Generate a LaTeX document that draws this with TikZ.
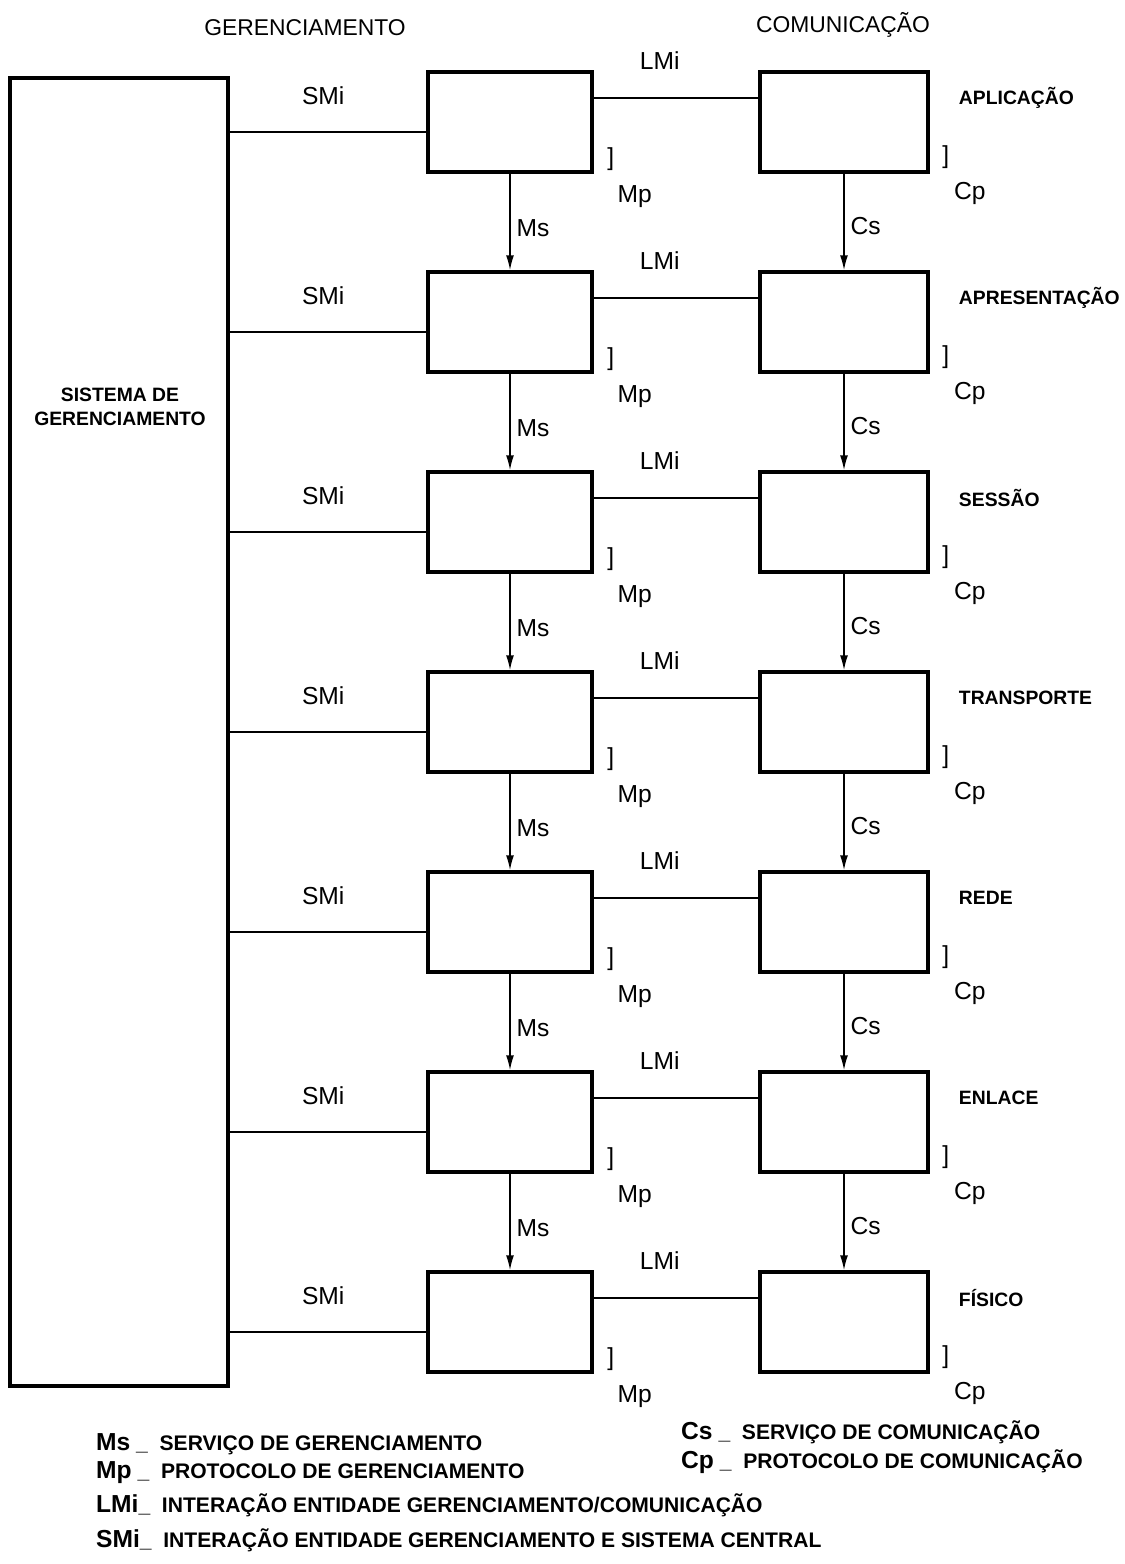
\documentclass[tikz,border=0pt]{standalone}
\usepackage{fontspec}
\setmainfont{Liberation Sans}
\usetikzlibrary{arrows.meta}
\newcommand{\keyfont}{\fontsize{14}{16}\selectfont}
\begin{document}
\begin{tikzpicture}[
    entity/.style={draw, line width=2pt, minimum width=3.28cm,
                   minimum height=2cm, inner sep=0pt},
    link/.style={line width=1.1pt},
    arrow/.style={-{Latex[length=0.3cm,width=0.16cm]}, line width=0.9pt},
    lbl/.style={font=\keyfont},
    layer/.style={anchor=west, font=\fontsize{11}{13}\selectfont\bfseries},
    legend/.style={anchor=west, font=\fontsize{12}{14}\selectfont\bfseries}
]
\useasboundingbox (0,0) rectangle (22.5,-31.28);

% column headings
\node[font=\fontsize{13}{15}\selectfont] (hmg) at (6.1,-0.56) {GERENCIAMENTO};
\node[font=\fontsize{13}{15}\selectfont] (hcm) at (16.86,-0.5) {COMUNICAÇÃO};

% central management system
\node[draw, line width=2pt, minimum width=4.36cm, minimum height=26.16cm] (sys) at (2.38,-14.64) {};
\node[align=center, font=\fontsize{11}{14}\selectfont\bfseries] (sysname) at (2.4,-8.14)
     {SISTEMA DE\\GERENCIAMENTO};

% layers
\foreach \name [count=\i] in {APLICAÇÃO,APRESENTAÇÃO,SESSÃO,TRANSPORTE,REDE,ENLACE,FÍSICO} {
    \pgfmathsetmacro\y{-2.44-4*(\i-1)}
    \node[entity] (mg\i) at (10.2,\y) {};
    \node[entity, minimum width=3.36cm] (cm\i) at (16.88,\y) {};
    \node[layer] (ly\i) at ([xshift=0.46cm, yshift=-0.56cm]cm\i.north east) {\name};

    \coordinate (smi\i) at ([yshift=-0.2cm]mg\i.west);
    \draw[link] (sys.east |- smi\i) -- (smi\i);
    \draw[link] ([yshift=0.48cm]mg\i.east) -- ([yshift=0.48cm]cm\i.west);

    \node[lbl] (smil\i) at ([xshift=-2.06cm, yshift=-0.5cm]mg\i.north west) {SMi};
    \node[lbl] (lmil\i) at ([xshift=1.32cm, yshift=0.2cm]mg\i.north east) {LMi};
    \node[lbl] (mb\i) at ([xshift=0.34cm, yshift=0.3cm]mg\i.south east) {]};
    \node[lbl] (mp\i) at ([xshift=0.82cm, yshift=-0.46cm]mg\i.south east) {Mp};
    \node[lbl] (cb\i) at ([xshift=0.32cm, yshift=0.34cm]cm\i.south east) {]};
    \node[lbl] (cp\i) at ([xshift=0.8cm, yshift=-0.4cm]cm\i.south east) {Cp};
}

% services between layers
\foreach \i [evaluate=\i as \j using int(\i+1)] in {1,...,6} {
    \draw[arrow] (mg\i) -- node[lbl, right, pos=0.56] {Ms} (mg\j);
    \draw[arrow] (cm\i) -- node[lbl, right, pos=0.54] {Cs} (cm\j);
}

% legend
\node[legend] (lgms) at (1.8,-28.88) {{\keyfont Ms} \_ \ SERVIÇO DE GERENCIAMENTO};
\node[legend] (lgmp) at (1.8,-29.46) {{\keyfont Mp} \_ \ PROTOCOLO DE GERENCIAMENTO};
\node[legend] (lglmi) at (1.8,-30.1) {{\keyfont LMi}\_ \ INTERAÇÃO ENTIDADE GERENCIAMENTO/COMUNICAÇÃO};
\node[legend] (lgsmi) at (1.8,-30.8) {{\keyfont SMi}\_ \ INTERAÇÃO ENTIDADE GERENCIAMENTO E SISTEMA CENTRAL};
\node[legend] (lgcs) at (13.5,-28.64) {{\keyfont Cs} \_ \ SERVIÇO DE COMUNICAÇÃO};
\node[legend] (lgcp) at (13.5,-29.24) {{\keyfont Cp} \_ \ PROTOCOLO DE COMUNICAÇÃO};
\end{tikzpicture}
\end{document}
